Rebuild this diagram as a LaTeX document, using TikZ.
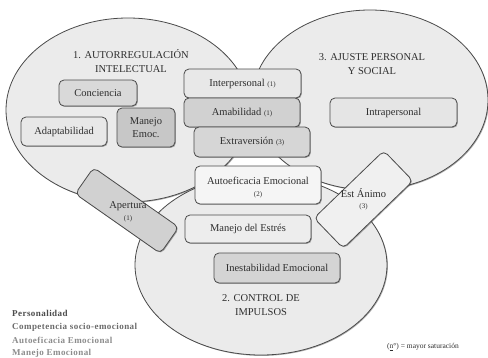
\documentclass[tikz,border=0pt]{standalone}
\usepackage{fontspec}
\setmainfont{Liberation Serif}
\usetikzlibrary{shadows,shapes.geometric}
\definecolor{ell}{HTML}{EBEBEB}
\definecolor{edge}{HTML}{4A4A4A}
\definecolor{txt}{HTML}{2E2E2E}
\newcommand{\nn}[1]{{\fontsize{7}{8}\selectfont #1}}
\begin{document}
\begin{tikzpicture}[x=1pt,y=-1pt,
  shade1/.style={drop shadow={shadow xshift=0.9pt,shadow yshift=-0.9pt,opacity=0.45,fill=black!70}},
  ellip/.style={ellipse,draw=edge,line width=0.8pt,fill=ell,inner sep=0pt,shade1},
  bx/.style={draw=edge,line width=0.8pt,rounded corners=5pt,inner sep=0pt,
    font=\fontsize{10.5}{13}\selectfont,text=txt,align=center,shade1},
  ttl/.style={font=\fontsize{10.5}{13.5}\selectfont,text=txt,align=center},
  lbl/.style={font=\fontsize{10.5}{11.5}\selectfont,text=txt,align=center},
  leg/.style={anchor=west,inner sep=0pt,font=\fontsize{9}{10}\selectfont\bfseries\addfontfeatures{LetterSpace=5}}]
\useasboundingbox (0,0) rectangle (488,357);
\fill[white] (0,0) rectangle (488,357);
% ellipses
\node[ellip,minimum width=244pt,minimum height=184pt] (e1) at (128,110) {};
\node[ellip,minimum width=236pt,minimum height=180pt] (e3) at (370,100) {};
\node[ellip,minimum width=252pt,minimum height=180pt] (e2) at (261,265) {};
% titles
\node[ttl] (t1) at (131,61) {1. AUTORREGULACIÓN\\INTELECTUAL};
\node[ttl] (t3) at (372,64) {3. AJUSTE PERSONAL\\Y SOCIAL};
\node[ttl] (t2) at (261,305) {2. CONTROL DE\\IMPULSOS};
% boxes
\node[bx,fill=black!15,minimum width=78pt,minimum height=26pt] (conc) at (98,93) {Conciencia};
\node[bx,fill=black!9,minimum width=86pt,minimum height=29pt] (adap) at (64,131.5) {Adaptabilidad};
\node[bx,fill=black!22,minimum width=58pt,minimum height=39pt] (mane) at (146,127.5) {Manejo\\Emoc.};
\node[bx,fill=black!9,minimum width=117pt,minimum height=29pt] (inter) at (242.5,83.5) {Interpersonal \nn{(1)}};
\node[bx,fill=black!18,minimum width=116pt,minimum height=29pt] (amab) at (242,112.5) {Amabilidad \nn{(1)}};
\node[bx,fill=black!16,minimum width=116pt,minimum height=30pt] (extra) at (252,142) {Extraversión \nn{(3)}};
\node[bx,fill=black!4,minimum width=126pt,minimum height=38pt] (auto) at (258,185) {};
\node[lbl] (autol) at (258,187.5) {Autoeficacia Emocional\\\nn{(2)}};
\node[bx,fill=black!7,minimum width=126pt,minimum height=28pt] (estres) at (248,229) {Manejo del Estrés};
\node[bx,fill=black!17,minimum width=126pt,minimum height=30pt] (inest) at (277,268) {Inestabilidad Emocional};
\node[bx,fill=black!10,minimum width=127pt,minimum height=29pt] (intra) at (393.5,112.5) {Intrapersonal};
\node[bx,fill=black!18,minimum width=104pt,minimum height=32pt,rotate=-35] (aper) at (127,210.5) {};
\node[lbl] (aperl) at (128,212) {Apertura\\\nn{(1)}};
\node[bx,fill=black!6,minimum width=97pt,minimum height=42pt,rotate=44] (esta) at (363.5,199.5) {};
\node[lbl] (estal) at (363.5,199) {Est Ánimo\\\nn{(3)}};
% legend
\node[leg,text=black!70] (l1) at (12,313) {Personalidad};
\node[leg,text=black!58] (l2) at (12,327) {Competencia socio-emocional};
\node[leg,text=black!45] (l3) at (12,340) {Autoeficacia Emocional};
\node[leg,text=black!45] (l4) at (12,353) {Manejo Emocional};
\node[anchor=west,inner sep=0pt,font=\fontsize{7.5}{8}\selectfont,text=txt] (note) at (387,347) {(\underline{n}°) = mayor saturación};
\end{tikzpicture}
\end{document}
